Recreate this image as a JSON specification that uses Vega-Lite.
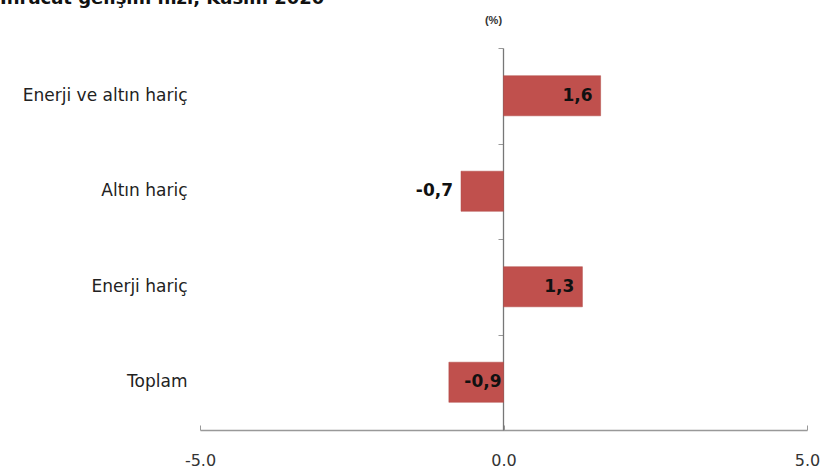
{
  "$schema": "https://vega.github.io/schema/vega-lite/v6.json",
  "width": 607,
  "height": 382,
  "autosize": "none",
  "padding": {"left": 200, "top": 48, "right": 18, "bottom": 41},
  "background": "white",
  "title": {
    "text": "İhracat gelişim hızı, Kasım 2020",
    "anchor": "start",
    "frame": "group",
    "orient": "top",
    "dx": -200,
    "dy": 12,
    "offset": 4,
    "baseline": "alphabetic",
    "font": "DejaVu Sans",
    "fontSize": 18,
    "fontWeight": "bold",
    "color": "#111"
  },
  "config": {
    "view": {"stroke": null},
    "font": "DejaVu Sans"
  },
  "data": {
    "values": [
      {"kategori": "Enerji ve altın hariç", "deger": 1.6, "etiket": "1,6"},
      {"kategori": "Altın hariç", "deger": -0.7, "etiket": "-0,7"},
      {"kategori": "Enerji hariç", "deger": 1.3, "etiket": "1,3"},
      {"kategori": "Toplam", "deger": -0.9, "etiket": "-0,9"}
    ]
  },
  "layer": [
    {
      "mark": {"type": "bar", "color": "#C0504D", "stroke": "#B04845", "strokeWidth": 0.5},
      "encoding": {
        "y": {
          "field": "kategori", "type": "nominal", "sort": null,
          "scale": {"paddingInner": 0.58, "paddingOuter": 0.29},
          "axis": {
            "title": null, "domain": false, "ticks": false,
            "labelPadding": 13, "labelFontSize": 17, "labelColor": "#222",
            "labelFont": "DejaVu Sans"
          }
        },
        "x": {
          "field": "deger", "type": "quantitative",
          "scale": {"domain": [-5, 5], "nice": false},
          "axis": {
            "title": null, "values": [-5, 0, 5], "format": ".1f", "grid": false,
            "labelExpr": "replace(datum.label, '−', '-')",
            "labelFlush": false,
            "domainColor": "#999", "domainWidth": 1.5, "tickColor": "#999", "tickSize": -5,
            "labelPadding": 27, "labelFontSize": 16, "labelColor": "#333",
            "labelFont": "DejaVu Sans"
          }
        }
      }
    },
    {
      "transform": [{"filter": "datum.kategori != 'Toplam'"}],
      "mark": {"type": "text", "align": "right", "dx": -8, "fontSize": 17, "fontWeight": "bold", "color": "#111", "font": "DejaVu Sans"},
      "encoding": {
        "y": {
          "field": "kategori", "type": "nominal", "sort": null, "axis": null,
          "scale": {"type": "band", "paddingInner": 0, "paddingOuter": 0, "domain": ["Enerji ve altın hariç", "Altın hariç", "Enerji hariç", "Toplam"]}
        },
        "x": {"field": "deger", "type": "quantitative"},
        "text": {"field": "etiket"}
      }
    },
    {
      "transform": [{"filter": "datum.kategori == 'Toplam'"}],
      "mark": {"type": "text", "align": "right", "dx": -2, "fontSize": 17, "fontWeight": "bold", "color": "#111", "font": "DejaVu Sans"},
      "encoding": {
        "y": {
          "field": "kategori", "type": "nominal", "sort": null,
          "scale": {"type": "band", "paddingInner": 0, "paddingOuter": 0, "domain": ["Enerji ve altın hariç", "Altın hariç", "Enerji hariç", "Toplam"]},
          "axis": {
            "orient": "left", "offset": -303, "labels": false,
            "tickBand": "extent", "tickSize": 5, "tickColor": "#999",
            "domainColor": "#777", "domainWidth": 1.3,
            "title": "(%)", "titleAngle": 0, "titleX": -10, "titleY": -28,
            "titleAlign": "center", "titleBaseline": "middle",
            "titleFontSize": 11, "titleFontWeight": "bold", "titleColor": "#333",
            "titleFont": "Liberation Sans"
          }
        },
        "x": {"datum": 0, "type": "quantitative"},
        "text": {"field": "etiket"}
      }
    }
  ],
  "resolve": {"axis": {"y": "independent"}, "scale": {"y": "independent"}}
}
